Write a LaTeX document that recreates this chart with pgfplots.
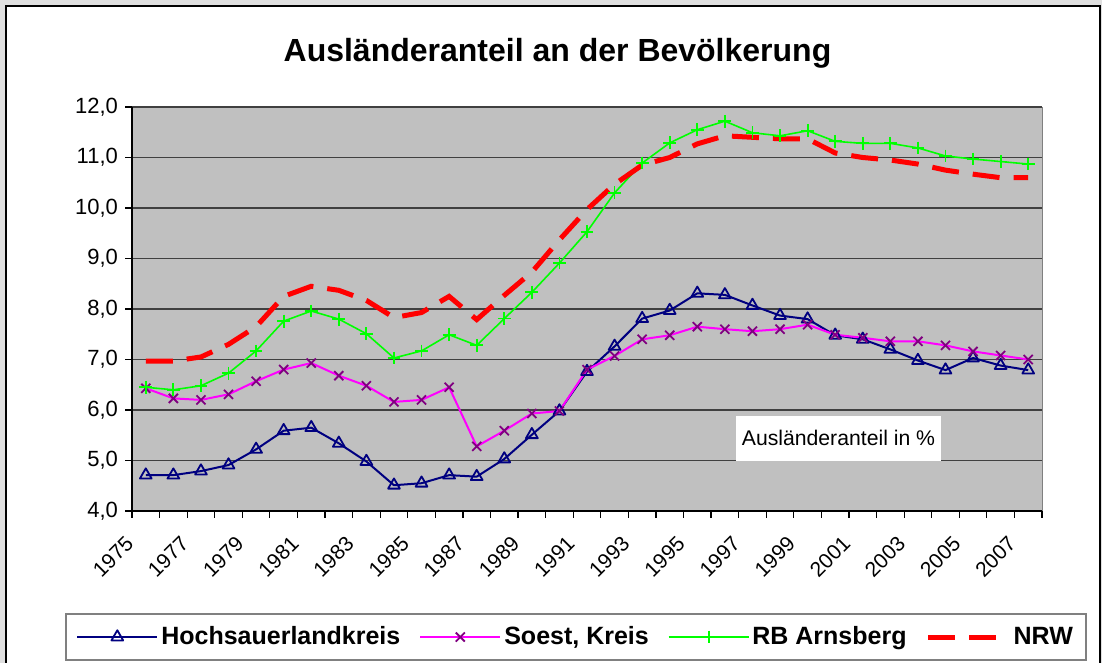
\documentclass[border=0pt]{standalone}
\usepackage{fontspec}
\setmainfont{Liberation Sans}
\usepackage{pgfplots}
\pgfplotsset{compat=1.18}
\definecolor{plotgray}{HTML}{C0C0C0}
\definecolor{hsk}{HTML}{000080}
\definecolor{soest}{HTML}{FF00FF}
\definecolor{soestmk}{HTML}{800080}
\definecolor{rb}{HTML}{00FF00}
\definecolor{nrw}{HTML}{FF0000}
\definecolor{bg}{HTML}{DFDFDF}
\begin{document}
\begin{tikzpicture}
\useasboundingbox (0,0) rectangle (551pt,331.5pt);
\fill[bg] (0,0) rectangle (551pt,331.5pt);
\draw[black, line width=0.6pt, fill=white] (3pt,-5pt) rectangle (550pt,328.5pt);
\node[anchor=base, font=\bfseries\fontsize{16}{19}\selectfont] at (278.75pt,300.5pt) {Ausländeranteil an der Bevölkerung};
\begin{axis}[
  at={(66pt,76pt)}, anchor=south west, scale only axis,
  width=455pt, height=202pt,
  xmin=-0.5, xmax=32.5, ymin=4, ymax=12,
  axis background/.style={fill=plotgray, draw=gray},
  axis lines*=left,
  axis line style={black, line width=0.8pt},
  xtick={-0.5,0.5,...,32.5}, xticklabels={},
  x tick label style={font=\fontsize{10.5}{12}\selectfont},
  extra x ticks={0,2,...,32},
  extra x tick labels={1975,1977,1979,1981,1983,1985,1987,1989,1991,1993,1995,1997,1999,2001,2003,2005,2007},
  extra x tick style={major tick length=0pt, xticklabel style={font=\fontsize{10.5}{12}\selectfont, xshift=-8pt, yshift=-14.5pt, rotate=45, anchor=east, inner sep=0pt}},
  ytick={4,5,...,12},
  yticklabel={\pgfmathprintnumber[fixed,fixed zerofill,precision=1,use comma,assume math mode=true]{\tick}},
  ymajorgrids, major grid style={black!75, line width=0.6pt},
  tick align=outside, major tick length=3.5pt,
  tick style={black, line width=0.6pt},
  yticklabel style={font=\fontsize{11}{13}\selectfont},
  legend columns=4,
  legend style={at={(0.488,-0.312)}, anchor=center, draw=gray, line width=1pt, fill=white,
    font=\bfseries\fontsize{12.5}{15}\selectfont, inner xsep=5pt, inner ysep=4.5pt,
    nodes={inner sep=1.5pt},
    /tikz/every even column/.append style={column sep=8pt}},
  legend image code/.code={\draw[mark repeat=2, mark phase=2, #1] plot coordinates {(0pt,0pt) (20pt,0pt) (40pt,0pt)};},
]
\addplot[hsk, line width=1pt, line join=round, mark=triangle, mark size=3.4pt, mark options={solid, line width=0.9pt}] coordinates {
(0,4.71) (1,4.71) (2,4.79) (3,4.91) (4,5.22) (5,5.59) (6,5.65) (7,5.34) (8,4.98) (9,4.51) (10,4.55)
(11,4.71) (12,4.68) (13,5.03) (14,5.51) (15,5.98) (16,6.76) (17,7.26) (18,7.81) (19,7.97) (20,8.31)
(21,8.28) (22,8.07) (23,7.87) (24,7.80) (25,7.48) (26,7.40) (27,7.20) (28,6.98) (29,6.79) (30,7.03)
(31,6.88) (32,6.79)};
\addlegendentry{Hochsauerlandkreis}
\addplot[soest, line width=1pt, line join=round, mark=x, mark size=3.2pt, mark options={solid, soestmk, line width=0.9pt}] coordinates {
(0,6.43) (1,6.23) (2,6.20) (3,6.31) (4,6.57) (5,6.80) (6,6.93) (7,6.68) (8,6.48) (9,6.16) (10,6.20)
(11,6.45) (12,5.28) (13,5.59) (14,5.93) (15,5.98) (16,6.80) (17,7.07) (18,7.40) (19,7.48) (20,7.65)
(21,7.60) (22,7.56) (23,7.60) (24,7.69) (25,7.49) (26,7.43) (27,7.36) (28,7.36) (29,7.28) (30,7.16)
(31,7.08) (32,7.00)};
\addlegendentry{Soest, Kreis}
\addplot[rb, line width=0.8pt, line join=round, mark=+, mark size=3.2pt, mark options={solid, line width=0.9pt}] coordinates {
(0,6.45) (1,6.40) (2,6.48) (3,6.73) (4,7.17) (5,7.76) (6,7.96) (7,7.80) (8,7.51) (9,7.03) (10,7.17)
(11,7.49) (12,7.28) (13,7.81) (14,8.33) (15,8.91) (16,9.53) (17,10.30) (18,10.89) (19,11.29) (20,11.55)
(21,11.72) (22,11.49) (23,11.43) (24,11.53) (25,11.32) (26,11.28) (27,11.28) (28,11.19) (29,11.03) (30,10.97)
(31,10.92) (32,10.87)};
\addlegendentry{RB Arnsberg}
\addplot[nrw, line width=2.5pt, dash pattern=on 13.5pt off 7pt] coordinates {
(0,6.97) (1,6.97) (2,7.05) (3,7.30) (4,7.65) (5,8.25) (6,8.45) (7,8.37) (8,8.17) (9,7.83) (10,7.93)
(11,8.25) (12,7.79) (13,8.27) (14,8.73) (15,9.37) (16,9.97) (17,10.47) (18,10.85) (19,11.00) (20,11.27)
(21,11.43) (22,11.40) (23,11.37) (24,11.37) (25,11.09) (26,11.00) (27,10.95) (28,10.87) (29,10.75) (30,10.67)
(31,10.60) (32,10.60)};
\addlegendentry{NRW}
\node[fill=white, minimum width=102.5pt, minimum height=22.5pt, inner sep=0pt, font=\fontsize{10.6}{12}\selectfont] at (axis cs:25.12,5.44) {Ausländeranteil in \%};
\end{axis}
\end{tikzpicture}
\end{document}
